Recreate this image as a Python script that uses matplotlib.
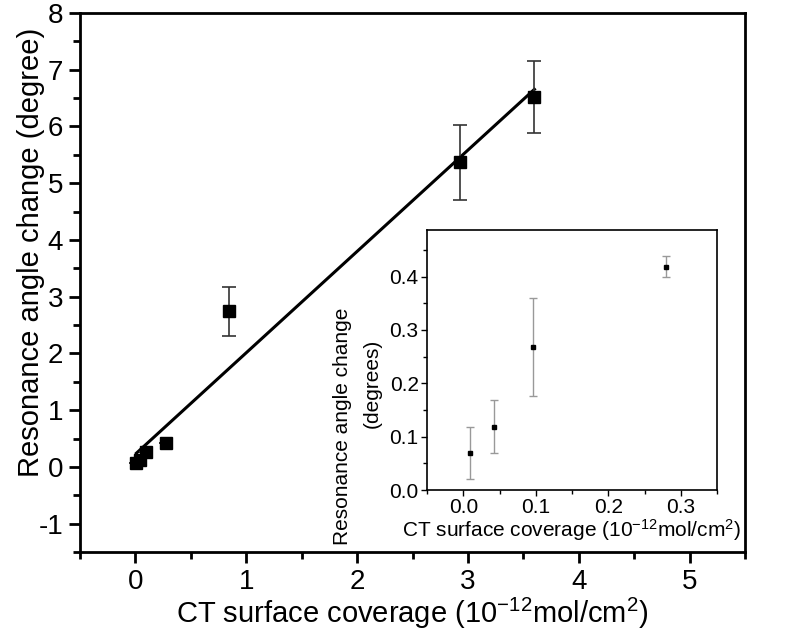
import numpy as np
import matplotlib
matplotlib.use("Agg")
import matplotlib.pyplot as plt
from matplotlib.ticker import MultipleLocator

plt.rcParams['font.family'] = ['Liberation Sans', 'DejaVu Sans']
plt.rcParams['mathtext.default'] = 'regular'
plt.rcParams['axes.unicode_minus'] = False

# Data
coverage = [0.009, 0.043, 0.096, 0.279, 0.84, 2.93, 3.60]
angle = [0.069, 0.119, 0.268, 0.419, 2.74, 5.37, 6.52]
angle_err = [0.0, 0.0, 0.0, 0.0, 0.43, 0.66, 0.64]

inset_cov = [0.009, 0.043, 0.096, 0.279]
inset_angle = [0.069, 0.119, 0.268, 0.419]
inset_err = [0.049, 0.050, 0.092, 0.020]

main_xticks = [0, 1, 2, 3, 4, 5]
main_yticks = [-1, 0, 1, 2, 3, 4, 5, 6, 7, 8]
inset_xticks = [0.0, 0.1, 0.2, 0.3]
inset_yticks = [0.0, 0.1, 0.2, 0.3, 0.4]

W, H = 785, 632
fig = plt.figure(figsize=(W/100, H/100), dpi=100)
ax = fig.add_axes([80/W, 1-552/H, (745-80)/W, (552-13)/H])

ax.errorbar(coverage, angle, yerr=angle_err, fmt='s', color='black', ms=8.5,
            ecolor='#333333', elinewidth=1.2, capsize=5, capthick=1.2, zorder=3)
slope, icpt = np.polyfit(coverage, angle, 1)
xf = np.array([min(coverage), max(coverage)])
ax.plot(xf, slope*xf + icpt, color='black', lw=2.2, zorder=2)

ax.set_xlim(-0.5, 5.5)
ax.set_ylim(-1.5, 8)
ax.set_xticks(main_xticks)
ax.set_yticks(main_yticks)
ax.xaxis.set_minor_locator(MultipleLocator(0.5))
ax.yaxis.set_minor_locator(MultipleLocator(0.5))
ax.tick_params(which='both', direction='out', top=False, right=False, labelsize=20, width=2)
ax.tick_params(which='major', length=8, pad=4)
ax.tick_params(which='minor', length=5)
for s in ax.spines.values():
    s.set_linewidth(2)
ax.set_xlabel('CT surface coverage (10$^{-12}$mol/cm$^{2}$)', fontsize=21, labelpad=1)
ax.set_ylabel('Resonance angle change (degree)', fontsize=21)
ax.yaxis.set_label_coords(-0.052, 0.555)

# Inset
ins = fig.add_axes([427/W, 1-490/H, (717-427)/W, (490-230)/H])
ins.errorbar(inset_cov, inset_angle, yerr=inset_err, fmt='s', color='black', ms=3.5,
             ecolor='#999999', elinewidth=1.0, capsize=3, capthick=1.0, zorder=3)
ins.set_xlim(-0.05, 0.35)
ins.set_ylim(0.0, 0.4875)
ins.set_xticks(inset_xticks)
ins.set_xticklabels(['0.0', '0.1', '0.2', '0.3'])
ins.set_yticks(inset_yticks)
ins.set_yticklabels(['0.0', '0.1', '0.2', '0.3', '0.4'])
ins.xaxis.set_minor_locator(MultipleLocator(0.05))
ins.yaxis.set_minor_locator(MultipleLocator(0.05))
ins.tick_params(which='both', direction='out', top=False, right=False, labelsize=15, width=1)
ins.tick_params(which='major', length=4, pad=2)
ins.tick_params(which='minor', length=3)
for s in ins.spines.values():
    s.set_linewidth(1.2)
ins.set_xlabel('CT surface coverage (10$^{-12}$mol/cm$^{2}$)', fontsize=15, labelpad=0)

# Inset y label (two lines, positioned separately as in the reference)
fig.text(342/W, 1-545/H, 'Resonance angle change', rotation=90, fontsize=15,
         ha='center', va='bottom')
fig.text(372/W, 1-383/H, '(degrees)', rotation=90, fontsize=15,
         ha='center', va='center')

fig.savefig('out.png', dpi=100)
